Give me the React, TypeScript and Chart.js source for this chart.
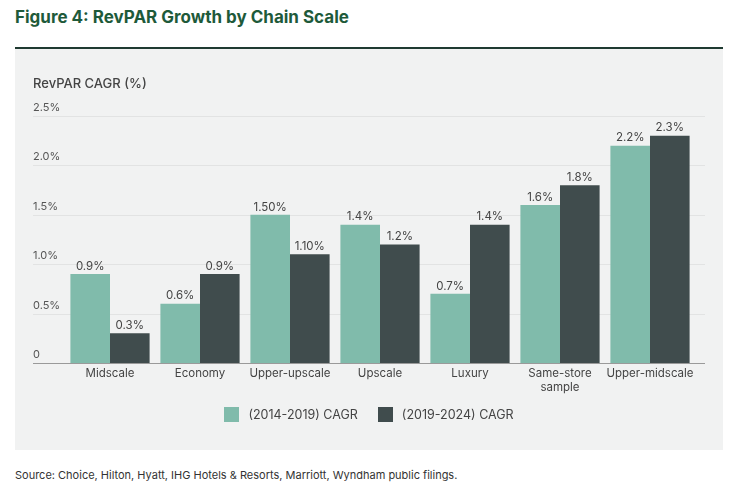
import React, { useEffect, useRef } from "react";
import { Chart, registerables } from "chart.js";
Chart.register(...registerables);

const categories = ["Midscale", "Economy", "Upper-upscale", "Upscale", "Luxury", "Same-store\nsample", "Upper-midscale"];
const cagr1419 = [0.9, 0.6, 1.5, 1.4, 0.7, 1.6, 2.2];
const cagr1924 = [0.3, 0.9, 1.1, 1.2, 1.4, 1.8, 2.3];
const labels1419 = ["0.9%", "0.6%", "1.50%", "1.4%", "0.7%", "1.6%", "2.2%"];
const labels1924 = ["0.3%", "0.9%", "1.10%", "1.2%", "1.4%", "1.8%", "2.3%"];
const yTicks = [0, 0.5, 1, 1.5, 2, 2.5];
const yTickLabels = ["0", "0.5%", "1.0%", "1.5%", "2.0%", "2.5%"];
const seriesNames = ["(2014-2019) CAGR", "(2019-2024) CAGR"];
const colors = ["#80bbab", "#404c4d"];
const FONT = "Inter, 'Open Sans', sans-serif";

export default function App() {
  const ref = useRef<HTMLCanvasElement>(null);
  useEffect(() => {
    const plugin = {
      id: "custom",
      beforeDatasetsDraw(chart: any) {
        const { ctx, scales } = chart;
        const y = scales.y;
        ctx.save();
        yTicks.forEach((t, i) => {
          const py = Math.round(y.getPixelForValue(t)) + 0.5;
          ctx.strokeStyle = t === 0 ? "#9a9a9a" : "#e2e3e3";
          ctx.lineWidth = 1;
          ctx.beginPath();
          ctx.moveTo(18, py);
          ctx.lineTo(690, py);
          ctx.stroke();
          ctx.fillStyle = "#555";
          ctx.font = `11px ${FONT}`;
          ctx.textAlign = "left";
          ctx.textBaseline = "bottom";
          ctx.fillText(yTickLabels[i], 18, py - 3);
        });
        ctx.restore();
      },
      afterDatasetsDraw(chart: any) {
        const { ctx, scales } = chart;
        const x = scales.x;
        const y0 = scales.y.getPixelForValue(0);
        ctx.save();
        ctx.font = `11.5px ${FONT}`;
        ctx.fillStyle = "#444";
        ctx.textAlign = "center";
        ctx.textBaseline = "top";
        categories.forEach((c, i) => {
          const cx = x.getPixelForValue(i);
          c.split("\n").forEach((line, j) => ctx.fillText(line, cx, y0 + 5 + j * 14));
        });
        const lbls = [labels1419, labels1924];
        ctx.textBaseline = "bottom";
        chart.data.datasets.forEach((_: any, di: number) => {
          chart.getDatasetMeta(di).data.forEach((bar: any, i: number) => {
            ctx.fillText(lbls[di][i], bar.x, bar.y - 2);
          });
        });
        ctx.restore();
      },
    };
    const chart = new Chart(ref.current!, {
      type: "bar",
      data: {
        labels: categories,
        datasets: [
          { label: seriesNames[0], data: cagr1419, backgroundColor: colors[0] },
          { label: seriesNames[1], data: cagr1924, backgroundColor: colors[1] },
        ],
      },
      options: {
        animation: false,
        responsive: false,
        layout: { padding: { left: 50, right: 28, top: 66, bottom: 88 } },
        datasets: { bar: { categoryPercentage: 0.88, barPercentage: 1 } },
        plugins: { legend: { display: false }, tooltip: { enabled: false } },
        scales: {
          x: { display: false },
          y: { display: false, min: 0, max: 2.5 },
        },
      },
      plugins: [plugin],
    });
    return () => chart.destroy();
  }, []);

  return (
    <div style={{ position: "relative", width: 737, height: 493, fontFamily: FONT, margin: -8, background: "#fff" }}>
      <div style={{ position: "absolute", left: 15, top: 7, fontSize: 17, fontWeight: 700, color: "#1e5a3a" }}>
        Figure 4: RevPAR Growth by Chain Scale
      </div>
      <div style={{ position: "absolute", left: 15, top: 47, width: 708, height: 2, background: "#1f3a31" }} />
      <div style={{ position: "absolute", left: 15, top: 49, width: 708, height: 401, background: "#f1f2f2" }}>
        <canvas ref={ref} width={708} height={401} style={{ position: "absolute", left: 0, top: 1 }} />
        <div style={{ position: "absolute", left: 18, top: 26, fontSize: 13, fontWeight: 500, color: "#444" }}>
          RevPAR CAGR (%)
        </div>
        <div style={{ position: "absolute", left: 0, width: 708, top: 358, display: "flex", justifyContent: "center", gap: 20, fontSize: 12.5, color: "#444" }}>
          {seriesNames.map((n, i) => (
            <div key={n} style={{ display: "flex", alignItems: "center", gap: 9 }}>
              <span style={{ width: 15, height: 15, background: colors[i], display: "inline-block" }} />
              {n}
            </div>
          ))}
        </div>
      </div>
      <div style={{ position: "absolute", left: 15, top: 468, fontSize: 11, color: "#333" }}>
        Source: Choice, Hilton, Hyatt, IHG Hotels &amp; Resorts, Marriott, Wyndham public filings.
      </div>
    </div>
  );
}
